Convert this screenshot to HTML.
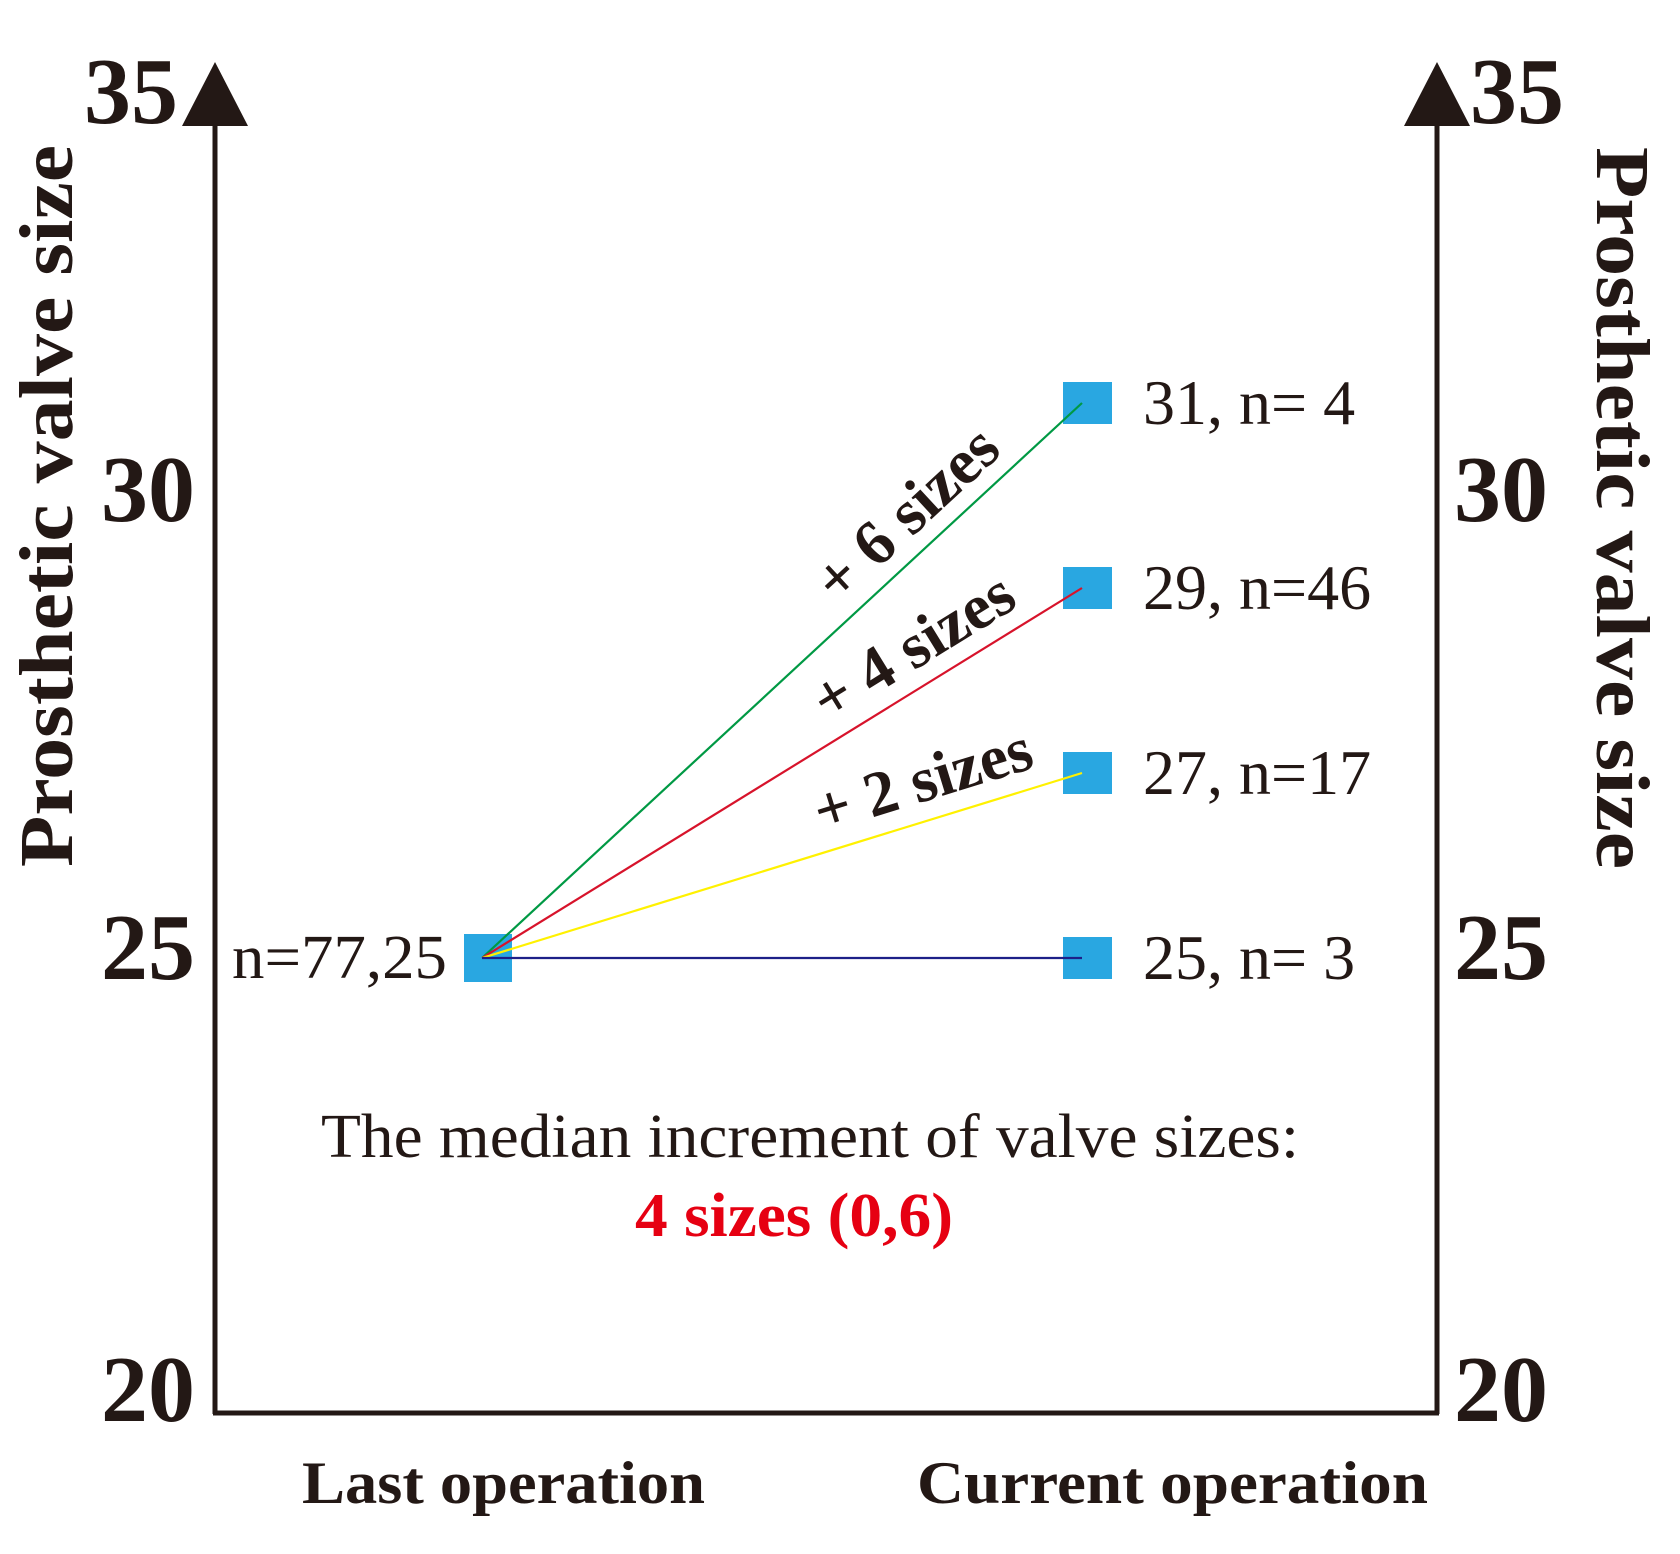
<!DOCTYPE html>
<html><head><meta charset="utf-8"><style>
html,body{margin:0;padding:0;background:#fff}
svg{display:block}
text{font-family:"Liberation Serif",serif;fill:#231815}
.b{font-weight:bold}
</style></head><body>
<svg id="chart" width="1680" height="1554" viewBox="0 0 1680 1554">
<g>
<line x1="215" y1="120" x2="215" y2="1414" stroke="#231815" stroke-width="5"/>
<polygon points="215,62 182,126 248,126" fill="#231815"/>
</g>
<g>
<line x1="1437" y1="120" x2="1437" y2="1414" stroke="#231815" stroke-width="5"/>
<polygon points="1437,62 1404,126 1470,126" fill="#231815"/>
</g>
<line x1="213" y1="1413" x2="1439" y2="1413" stroke="#231815" stroke-width="5"/>
<g class="b" font-size="94">
<text x="178" y="123" text-anchor="end">35</text>
<text x="195" y="521" text-anchor="end">30</text>
<text x="195" y="979" text-anchor="end">25</text>
<text x="195" y="1421" text-anchor="end">20</text>
</g>
<g class="b" font-size="94">
<text x="1470" y="123">35</text>
<text x="1454" y="521">30</text>
<text x="1454" y="979">25</text>
<text x="1454" y="1421">20</text>
</g>
<text class="b" font-size="76" text-anchor="middle" textLength="722" lengthAdjust="spacingAndGlyphs" transform="translate(72,506) rotate(-90)">Prosthetic valve size</text>
<text class="b" font-size="76" text-anchor="middle" textLength="722" lengthAdjust="spacingAndGlyphs" transform="translate(1597,508) rotate(90)">Prosthetic valve size</text>
<g id="series"></g>
<text x="810" y="1157" font-size="62" text-anchor="middle" textLength="978" lengthAdjust="spacingAndGlyphs">The median increment of valve sizes:</text>
<text x="794" y="1236" font-size="62" class="b" text-anchor="middle" style="fill:#e60012" textLength="318" lengthAdjust="spacingAndGlyphs">4 sizes (0,6)</text>
<text x="302" y="1503" class="b" font-size="60" textLength="403" lengthAdjust="spacingAndGlyphs">Last operation</text>
<text x="917" y="1503" class="b" font-size="60" textLength="511" lengthAdjust="spacingAndGlyphs">Current operation</text>
</svg>
<script>
const startValue = 25;
const startLabel = "n=77,25";
const endValues = [31, 29, 27, 25];
const endLabels = ["31, n= 4", "29, n=46", "27, n=17", "25, n= 3"];
const lineColors = ["#009944", "#d7132b", "#fff100", "#1d2088"];
const deltaLabels = ["+ 6 sizes", "+ 4 sizes", "+ 2 sizes", ""];

const NS = "http://www.w3.org/2000/svg";
const g = document.getElementById("series");
const xStart = 488, xEnd = 1088;
function y(v){ return 958 - (v - 25) * 92.5; }
function mk(tag, attrs){ const e = document.createElementNS(NS, tag); for (const k in attrs) e.setAttribute(k, attrs[k]); return e; }

const sm = mk("rect", {x: xStart-24, y: y(startValue)-24, width: 48, height: 48, fill: "#29a7e1"});


g.appendChild(sm);
const sl = mk("text", {x: xStart-41, y: y(startValue)+20, "font-size": 62, "text-anchor": "end", textLength: 215, lengthAdjust: "spacingAndGlyphs"});
sl.textContent = startLabel;


g.appendChild(sl);

endValues.forEach((v, i) => {
  const r = mk("rect", {x: xEnd-25, y: y(v)-21, width: 49, height: 42, fill: "#29a7e1"});
  
  
  g.appendChild(r);
});
endValues.forEach((v, i) => {
  const l = mk("line", {x1: xStart-6, y1: y(startValue), x2: xEnd-6, y2: y(v), stroke: lineColors[i], "stroke-width": 2.2});
  
  
  g.appendChild(l);
  const t = mk("text", {x: 1143, y: y(v)+21, "font-size": 64});
  t.textContent = endLabels[i];
  
  
  g.appendChild(t);
  if (deltaLabels[i]) {
    const x1 = xStart, y1 = y(startValue), x2 = xEnd, y2 = y(v);
    const ang = Math.atan2(y2 - y1, x2 - x1) * 180 / Math.PI;
    const f = 0.745;
    const cx = x1 + (x2 - x1) * f, cy = y1 + (y2 - y1) * f;
    const d = mk("text", {"font-size": 64, "font-weight": "bold", "text-anchor": "middle",
      transform: "translate(" + cx + "," + cy + ") rotate(" + ang + ") translate(0,-21)"});
    d.textContent = deltaLabels[i];
    
    
    g.appendChild(d);
  }
});
</script>
</body></html>
